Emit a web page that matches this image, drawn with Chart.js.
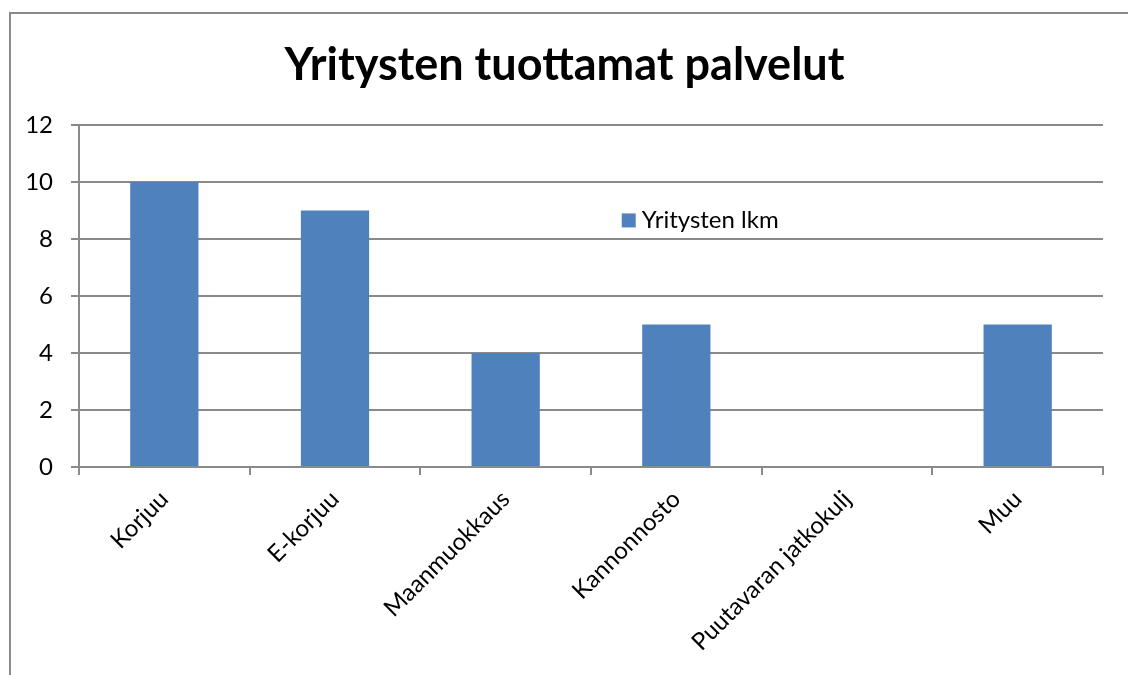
<!DOCTYPE html>
<html>
<head>
<meta charset="utf-8">
<script src="https://cdn.jsdelivr.net/npm/chart.js@4/dist/chart.umd.min.js"></script>
<style>
    html, body { margin: 0; padding: 0; background: #fff; overflow: hidden; }
    #wrap { position: relative; width: 1128px; height: 675px; }
    #frame { position: absolute; left: 9px; top: 12px; width: 1200px; height: 700px; border: 2px solid #8a8a8a; box-sizing: border-box; }
    #chart { position: absolute; left: 0; top: 0; }
</style>
</head>
<body>
<div id="wrap">
    <div id="frame"></div>
    <canvas id="chart" width="1128" height="675"></canvas>
</div>
<script>
var categories = ['Korjuu', 'E-korjuu', 'Maanmuokkaus', 'Kannonnosto', 'Puutavaran jatkokulj', 'Muu'];
var companyCounts = [10, 9, 4, 5, 0, 5];
var seriesLabel = 'Yritysten lkm';
var chartTitle = 'Yritysten tuottamat palvelut';

var FONT = 'Lato, "Open Sans", sans-serif';
var GRID = '#8a8a8a';
var BAR = '#4f81bd';

// legend sits inside the plot area, like the original
var innerLegend = {
    id: 'innerLegend',
    afterDraw: function (chart) {
        var ctx = chart.ctx;
        var area = chart.chartArea;
        var x = area.left + (area.right - area.left) * 0.530;
        var y = area.top + (area.bottom - area.top) * 0.279;
        ctx.save();
        ctx.fillStyle = BAR;
        ctx.fillRect(x, y - 7, 14, 14);
        ctx.fillStyle = '#000';
        ctx.font = '24px ' + FONT;
        ctx.textBaseline = 'middle';
        ctx.textAlign = 'left';
        ctx.fillText(chart.data.datasets[0].label, x + 20, y);
        ctx.restore();
    }
};

new Chart(document.getElementById('chart'), {
    type: 'bar',
    data: {
        labels: categories,
        datasets: [{
            label: seriesLabel,
            data: companyCounts,
            backgroundColor: BAR,
            borderWidth: 0,
            categoryPercentage: 1,
            barPercentage: 0.4
        }]
    },
    options: {
        responsive: false,
        animation: false,
        // a bit of left padding nudges the title right, as in the original
        layout: { padding: { left: 26, right: 25, top: 0, bottom: 0 } },
        plugins: {
            legend: { display: false },
            tooltip: { enabled: false },
            title: {
                display: true,
                text: chartTitle,
                color: '#000',
                font: { family: FONT, size: 45, weight: 'bold' },
                padding: { top: 38, bottom: 33 }
            }
        },
        scales: {
            x: {
                grid: { drawOnChartArea: false, offset: true, tickLength: 8, color: GRID, lineWidth: 2 },
                border: { color: GRID, width: 2 },
                ticks: {
                    color: '#000',
                    font: { family: FONT, size: 24 },
                    minRotation: 45,
                    maxRotation: 45,
                    autoSkip: false,
                    padding: 10
                },
                afterFit: function (scale) { scale.height = 208; }
            },
            y: {
                min: 0,
                max: 12,
                ticks: {
                    stepSize: 2,
                    color: '#000',
                    font: { family: FONT, size: 24 },
                    padding: 18
                },
                grid: { color: GRID, lineWidth: 2, tickLength: 8 },
                border: { color: GRID, width: 2 },
                afterFit: function (scale) { scale.width = 53; }
            }
        }
    },
    plugins: [innerLegend]
});
</script>
</body>
</html>
